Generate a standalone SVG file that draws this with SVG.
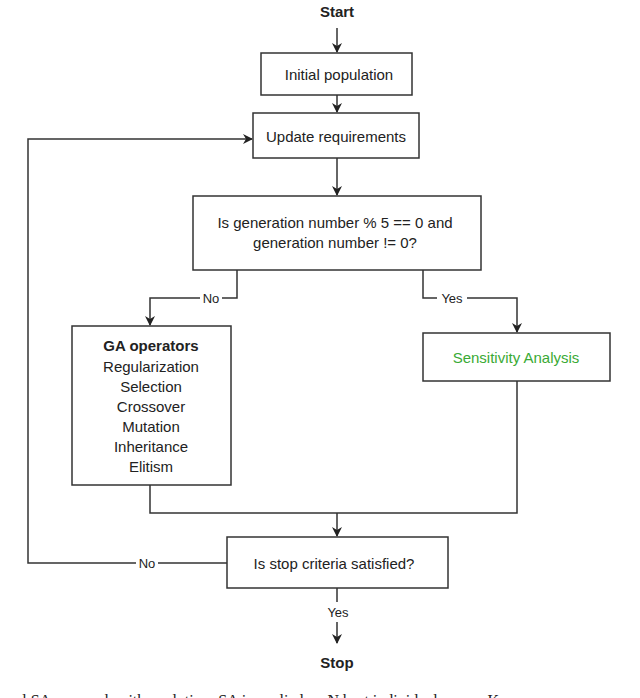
<svg xmlns="http://www.w3.org/2000/svg" width="640" height="698" viewBox="0 0 640 698">
<style>
text{font-family:"Liberation Sans",Arial,sans-serif;font-size:15px;fill:#222;text-anchor:middle;dominant-baseline:central}
.b{font-weight:bold}
.box{fill:#fff;stroke:#333;stroke-width:1.5}
.c{fill:none;stroke:#333;stroke-width:1.5}
.lbl{font-size:13px}
</style>
<defs><marker id="a" markerWidth="10" markerHeight="10" refX="9" refY="5" orient="auto" markerUnits="userSpaceOnUse"><path d="M0,0 L10,5 L0,10 L3,5 Z" fill="#222"/></marker></defs>
<rect width="640" height="698" fill="#fff"/>
<g id="connectors">
<path class="c" d="M337,28 V52" marker-end="url(#a)"/>
<path class="c" d="M337,95 V112" marker-end="url(#a)"/>
<path class="c" d="M337,158 V195" marker-end="url(#a)"/>
<path class="c" d="M237,270 V298 H150 V325" marker-end="url(#a)"/>
<path class="c" d="M423,270 V298 H517 V332" marker-end="url(#a)"/>
<path class="c" d="M150,485 V513 H517 V381"/>
<path class="c" d="M337,513 V536" marker-end="url(#a)"/>
<path class="c" d="M227,563 H28 V139 H252" marker-end="url(#a)"/>
<path class="c" d="M337,588 V602 M337,622 V643" marker-end="url(#a)"/>
<rect x="200" y="290" width="22" height="16" fill="#fff"/>
<text class="lbl" x="211" y="298">No</text>
<rect x="437" y="290" width="30" height="16" fill="#fff"/>
<text class="lbl" x="452" y="298">Yes</text>
<rect x="136" y="555" width="22" height="16" fill="#fff"/>
<text class="lbl" x="147" y="563">No</text>
<text class="lbl" x="338" y="612">Yes</text>
</g>
<g id="start"><text class="b" x="337" y="11">Start</text></g>
<g id="init"><rect class="box" x="261" y="53" width="151" height="42"/><text x="339" y="74">Initial population</text></g>
<g id="update"><rect class="box" x="253" y="113" width="166" height="45"/><text x="336" y="136">Update requirements</text></g>
<g id="decision"><rect class="box" x="193" y="196" width="288" height="74"/><text x="335" y="222">Is generation number % 5 == 0 and</text><text x="335" y="242">generation number != 0?</text></g>
<g id="ga"><rect class="box" x="72" y="326" width="159" height="159"/>
<text class="b" x="151" y="345">GA operators</text>
<text x="151" y="366">Regularization</text>
<text x="151" y="386">Selection</text>
<text x="151" y="406">Crossover</text>
<text x="151" y="426">Mutation</text>
<text x="151" y="446">Inheritance</text>
<text x="151" y="466">Elitism</text></g>
<g id="sa"><rect class="box" x="423" y="333" width="187" height="48"/><text x="516" y="357" style="fill:#3aaa35">Sensitivity Analysis</text></g>
<g id="stopq"><rect class="box" x="227" y="537" width="221" height="51"/><text x="334" y="563">Is stop criteria satisfied?</text></g>
<g id="stop"><text class="b" x="337" y="662">Stop</text></g>
<text x="0" y="700" style="font-family:'Liberation Serif',serif;font-size:16px;text-anchor:start">ocal SA approach with evolution: SA is applied on N best individuals every K</text>
</svg>
